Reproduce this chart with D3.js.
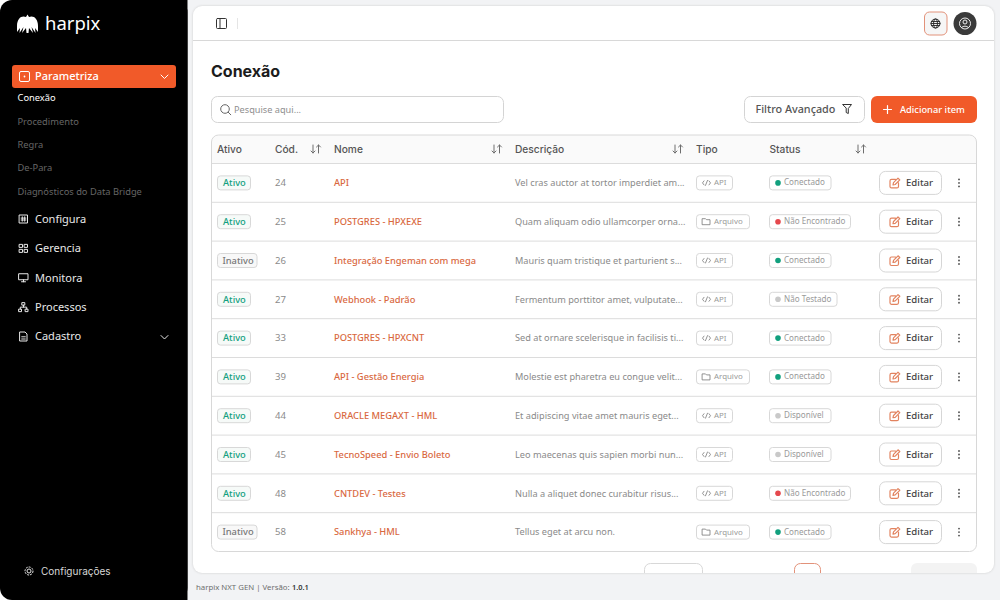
<!DOCTYPE html>
<html>
<head>
<meta charset="utf-8">
<style>
  html, body { margin: 0; padding: 0; background: #f2f3f5; overflow: hidden; }
  text { font-family: "Noto Sans", sans-serif; }
  .inter { font-family: Inter, sans-serif; }
</style>
<script src="https://cdn.jsdelivr.net/npm/d3@7"></script>
</head>
<body>
<div id="chart"></div>
<script>
const subItems = ["Conexão", "Procedimento", "Regra", "De-Para", "Diagnósticos do Data Bridge"];
const navItems = ["Configura", "Gerencia", "Monitora", "Processos", "Cadastro"];

const codes = [24, 25, 26, 27, 33, 39, 44, 45, 48, 58];
const actives = ["Ativo", "Ativo", "Inativo", "Ativo", "Ativo", "Ativo", "Ativo", "Ativo", "Ativo", "Inativo"];
const names = ["API", "POSTGRES - HPXEXE", "Integração Engeman com mega", "Webhook - Padrão", "POSTGRES - HPXCNT",
    "API - Gestão Energia", "ORACLE MEGAXT - HML", "TecnoSpeed - Envio Boleto", "CNTDEV - Testes", "Sankhya - HML"];
const descriptions = ["Vel cras auctor at tortor imperdiet am...", "Quam aliquam odio ullamcorper orna...",
    "Mauris quam tristique et parturient s...", "Fermentum porttitor amet, vulputate...",
    "Sed at ornare scelerisque in facilisis ti...", "Molestie est pharetra eu congue velit...",
    "Et adipiscing vitae amet mauris eget...", "Leo maecenas quis sapien morbi nun...",
    "Nulla a aliquet donec curabitur risus...", "Tellus eget at arcu non."];
const types = ["API", "Arquivo", "API", "API", "API", "Arquivo", "API", "API", "API", "Arquivo"];
const statuses = ["Conectado", "Não Encontrado", "Conectado", "Não Testado", "Conectado",
    "Conectado", "Disponível", "Disponível", "Não Encontrado", "Conectado"];
const headers = ["Ativo", "Cód.", "Nome", "Descrição", "Tipo", "Status"];
const sortable = ["Cód.", "Nome", "Descrição", "Status"];

const orange = "#f15a29", line = "#dcdcdc", grey = "#8b8b8b", dark = "#3a3a3a";
const statusColor = {"Conectado": "#12a07e", "Não Encontrado": "#e5484d", "Não Testado": "#c9c9c9", "Disponível": "#c9c9c9"};
const statusWidth = {"Conectado": 61.5, "Não Encontrado": 81, "Não Testado": 67.5, "Disponível": 61.5};

const svg = d3.select("#chart").append("svg").attr("width", 1000).attr("height", 600).style("display", "block");

const label = (g, x, y, s, size, fill, weight) => g.append("text")
    .attr("x", x).attr("y", y).attr("dy", "0.35em").attr("font-size", size)
    .attr("fill", fill).attr("font-weight", weight || 400).text(s);
const box = (g, x, y, w, h, r, fill, stroke) => g.append("rect")
    .attr("x", x).attr("y", y).attr("width", w).attr("height", h).attr("rx", r)
    .attr("fill", fill).attr("stroke", stroke || "none");
const icon = (g, x, y, d, stroke, sw) => g.append("path")
    .attr("transform", `translate(${x},${y})`).attr("d", d)
    .attr("fill", "none").attr("stroke", stroke).attr("stroke-width", sw || 1)
    .attr("stroke-linecap", "round").attr("stroke-linejoin", "round");

// sidebar
svg.append("rect").attr("x", -20).attr("y", 0).attr("width", 207.5).attr("height", 600).attr("fill", "#fff");
svg.append("rect").attr("x", 0).attr("y", 0).attr("width", 187.5).attr("height", 600).attr("rx", 12).attr("fill", "#000");
svg.append("rect").attr("x", 60).attr("y", 0).attr("width", 127.5).attr("height", 600).attr("fill", "#000");

const side = svg.append("g");
side.append("path")
    .attr("d", "M17 26 C17 18 22 15 26 17 L27.5 14.5 L29 17 C33 15 38 18 38 26 L38 32 L35 28 L35.5 33 L31.5 27 L33 33 L29 28 L28.5 33 L26.5 33 L26 28 L22 33 L23.5 27 L19.5 33 L20 28 L17 32 Z")
    .attr("fill", "#fff");
side.append("text").attr("x", 45).attr("y", 29.5).attr("font-size", 18.5).attr("font-family", "Lato")
    .attr("fill", "#fff").text("harpix");

box(side, 12, 65, 164, 23, 3, orange);
box(side, 19.5, 71.5, 10, 10, 1.5, "none", "#fff");
side.append("circle").attr("cx", 24.5).attr("cy", 76.5).attr("r", 0.9).attr("fill", "#fff");
label(side, 35, 76, "Parametriza", 11, "#fff", 500);
icon(side, 160, 74, "M1 1 L4.5 4.5 L8 1", "#fff");

const subY = d3.scalePoint().domain(subItems).range([98, 191.5]);
subItems.forEach((s, i) => label(side, 17.5, subY(s), s, 9.3, i === 0 ? "#fff" : "#666"));

const navY = d3.scalePoint().domain(navItems).range([219, 336.5]);
const navIcons = [
    "M-4 -4 H4 V4 H-4 Z M-1.2 -2.2 V2.2 M1.2 -2.2 V2.2 M-2.4 -0.9 H2.4 M-2.4 1 H2.4",
    "M-4 -4 H-1 V-1 H-4 Z M1 -4 H4 V-1 H1 Z M-4 1 H-1 V4 H-4 Z M1 1 H4 V4 H1 Z",
    "M-4.5 -4 H4.5 V2 H-4.5 Z M-2 4 H2 M0 2 V4",
    "M-1.3 -4.5 H1.3 V-2 H-1.3 Z M-4.5 2 H-2 V4.5 H-4.5 Z M2 2 H4.5 V4.5 H2 Z M0 -2 V0 M-3.2 2 V0 H3.2 V2",
    "M-3.5 -4.5 H1.5 L3.5 -2.5 V4.5 H-3.5 Z M-1.8 0.3 H1.8 M-1.8 2.5 H1.8"
];
navItems.forEach((s, i) => {
    icon(side, 23.5, navY(s), navIcons[i], "#e8e8e8");
    label(side, 35, navY(s), s, 11, "#e8e8e8");
});
icon(side, 160, navY("Cadastro") - 2, "M1 1 L4.5 4.5 L8 1", "#e8e8e8");
side.append("circle").attr("cx", 29).attr("cy", 571).attr("r", 2).attr("fill", "none").attr("stroke", "#e8e8e8");
side.append("circle").attr("cx", 29).attr("cy", 571).attr("r", 4).attr("fill", "none").attr("stroke", "#e8e8e8").attr("stroke-dasharray", "2 1");
label(side, 41, 571, "Configurações", 10, "#d8d8d8").attr("class", "inter");

// footer
label(svg, 196, 587.5, "harpix NXT GEN | Versão:", 7.8, "#6e6e6e");
label(svg, 292, 587.5, "1.0.1", 7.4, "#333", 600);

// card, everything inside is clipped at its lower edge
svg.append("clipPath").attr("id", "card-clip").append("rect")
    .attr("x", 193).attr("y", 6).attr("width", 801).attr("height", 567).attr("rx", 9);
box(svg, 193, 6, 801, 567, 9, "#fff").attr("filter", "drop-shadow(0 0 1px #ccc)");
const card = svg.append("g").attr("clip-path", "url(#card-clip)");

// top bar
card.append("line").attr("x1", 193).attr("x2", 994).attr("y1", 40.5).attr("y2", 40.5).attr("stroke", "#d8d8d8");
icon(card, 216.5, 18.5, "M1 0 H9 Q10 0 10 1 V9 Q10 10 9 10 H1 Q0 10 0 9 V1 Q0 0 1 0 Z M3.5 0 V10", "#333");
card.append("line").attr("x1", 237.5).attr("x2", 237.5).attr("y1", 18).attr("y2", 29).attr("stroke", "#e5e5e5");
box(card, 924.5, 12, 22.5, 23, 5, "#f6f6f6", "#e2927a");
const globe = card.append("g").attr("transform", "translate(935.5,23.5)");
globe.append("circle").attr("r", 4.5).attr("fill", "none").attr("stroke", "#222");
globe.append("ellipse").attr("rx", 2).attr("ry", 4.5).attr("fill", "none").attr("stroke", "#222").attr("stroke-width", 0.9);
icon(globe, 0, 0, "M-4.5 0 H4.5 M-4 -2 H4 M-4 2 H4", "#222", 0.9);
card.append("circle").attr("cx", 965).attr("cy", 23.5).attr("r", 11.5).attr("fill", dark);
card.append("circle").attr("cx", 965).attr("cy", 23.5).attr("r", 5.5).attr("fill", "none").attr("stroke", "#eee");
card.append("circle").attr("cx", 965).attr("cy", 22).attr("r", 2).attr("fill", "none").attr("stroke", "#eee");
icon(card, 965, 23.5, "M-3.5 4 Q0 1 3.5 4", "#eee");

// title and toolbar
card.append("text").attr("x", 211).attr("y", 77).attr("font-size", 16).attr("font-weight", 700)
    .attr("class", "inter").attr("fill", "#1c1c1c").text("Conexão");
box(card, 211.5, 96.5, 292, 26, 6, "#fff", "#d4d4d4");
card.append("circle").attr("cx", 225).attr("cy", 109).attr("r", 4.3).attr("fill", "none").attr("stroke", "#666");
icon(card, 228.3, 112.3, "M0 0 L2.5 2.5", "#666");
label(card, 234, 109.5, "Pesquise aqui...", 9.2, "#8f8f8f");
box(card, 744.5, 96.5, 120, 26, 6, "#fff", "#d4d4d4");
label(card, 755.5, 109, "Filtro Avançado", 10.8, "#555", 500);
icon(card, 843, 104.5, "M0 0 H8.5 L5.3 4 V9 L3.2 8 V4 Z", "#333");
box(card, 871, 96, 106, 27, 6, orange);
icon(card, 887.5, 109.5, "M0 -4 V4 M-4 0 H4", "#fff", 1.2);
label(card, 900, 109.5, "Adicionar item", 9.3, "#fff", 500);

// table
const rowY = d3.scaleBand().domain(codes).range([163.5, 551.5]);
const colX = d3.scaleOrdinal().domain(headers).range([217, 275, 334, 515, 696, 769.5]);
const sortX = d3.scaleOrdinal().domain(sortable).range([316, 497, 678, 861]);

card.append("clipPath").attr("id", "table-clip").append("rect")
    .attr("x", 211.5).attr("y", 135).attr("width", 765).attr("height", 416.5).attr("rx", 7);
const table = card.append("g");
const tableBody = table.append("g").attr("clip-path", "url(#table-clip)");
tableBody.append("rect").attr("x", 211).attr("y", 135).attr("width", 766).attr("height", 29).attr("fill", "#fafafa");
tableBody.append("line").attr("x1", 211).attr("x2", 977).attr("y1", 163.5).attr("y2", 163.5).attr("stroke", line);
tableBody.selectAll(".row-line").data(codes.slice(1)).join("line")
    .attr("class", "row-line").attr("x1", 211).attr("x2", 977)
    .attr("y1", d => rowY(d)).attr("y2", d => rowY(d)).attr("stroke", line);
box(table, 211.5, 135, 765, 416.5, 7, "none", "#d8d8d8");

headers.forEach(h => label(table, colX(h), 149.5, h, 10.2, "#555", 500).attr("class", "inter"));
sortable.forEach(h => icon(table, sortX(h), 145, "M-3 0 V8 M-5 6 L-3 8 L-1 6 M2.5 8 V0 M0.5 2 L2.5 0 L4.5 2", "#6e6e6e"));

const rows = table.selectAll(".row").data(codes).join("g")
    .attr("class", "row")
    .attr("transform", d => `translate(0,${rowY(d) + rowY.bandwidth() / 2})`);

rows.each(function (code, i) {
    const g = d3.select(this);
    const on = actives[i] === "Ativo";
    box(g, 217.5, -7, on ? 33 : 39.5, 14, 3, on ? "#f6faf8" : "#f8f8f8", "#d8d8d8");
    label(g, on ? 223 : 222.5, 0, actives[i], 9.3, on ? "#12a07e" : "#777", 500);
    label(g, 275, 0, code, 9.6, grey);
    label(g, 334, 0, names[i], 9.3, "#d9693f", 500);
    label(g, 515, 0, descriptions[i], 9.2, "#8a8a8a");

    const isApi = types[i] === "API";
    box(g, 696.5, -7, isApi ? 36 : 53, 14, 3, "#fff", "#d8d8d8");
    if (isApi) icon(g, 702.5, -2.5, "M1.5 0.5 L0 2.5 L1.5 4.5 M6.5 0.5 L8 2.5 L6.5 4.5 M3 5 L5 0", "#777", 0.8);
    else icon(g, 702.5, -3.5, "M0 0.5 H3 L4 1.5 H7.5 V6.5 H0 Z", "#777", 0.8);
    label(g, 714, -0.3, types[i], 7.9, "#9a9a9a");

    const st = statuses[i];
    box(g, 769.5, -7, statusWidth[st], 14, 3, "#fff", "#d8d8d8");
    g.append("circle").attr("cx", 778).attr("cy", 0).attr("r", 2.8).attr("fill", statusColor[st]);
    label(g, 784, -0.3, st, 8.1, "#9a9a9a");

    box(g, 879.5, -11.5, 62, 23, 6, "#fff", "#d6d6d6");
    icon(g, 889.5, -5, "M6 1.5 H2 Q0.5 1.5 0.5 3 V8.5 Q0.5 10 2 10 H7.5 Q9 10 9 8.5 V5 M3.5 7 L4 4.8 L8.5 0.3 L10.3 2 L5.7 6.6 Z", "#e2835f", 1.2);
    label(g, 906, 0, "Editar", 9.6, "#444", 500);
    g.selectAll(".dot").data([-3.5, 0, 3.5]).join("circle").attr("class", "dot")
        .attr("cx", 959).attr("cy", d => d).attr("r", 0.95).attr("fill", "#555");
});

// pagination, cut off by the card edge
box(card, 644.5, 563.5, 58, 24, 6, "#fff", "#d8d8d8");
box(card, 794.5, 563.5, 26, 24, 6, "#fff", "#e2927a");
box(card, 911, 563, 66, 24, 6, "#f3f3f3");
</script>
</body>
</html>
